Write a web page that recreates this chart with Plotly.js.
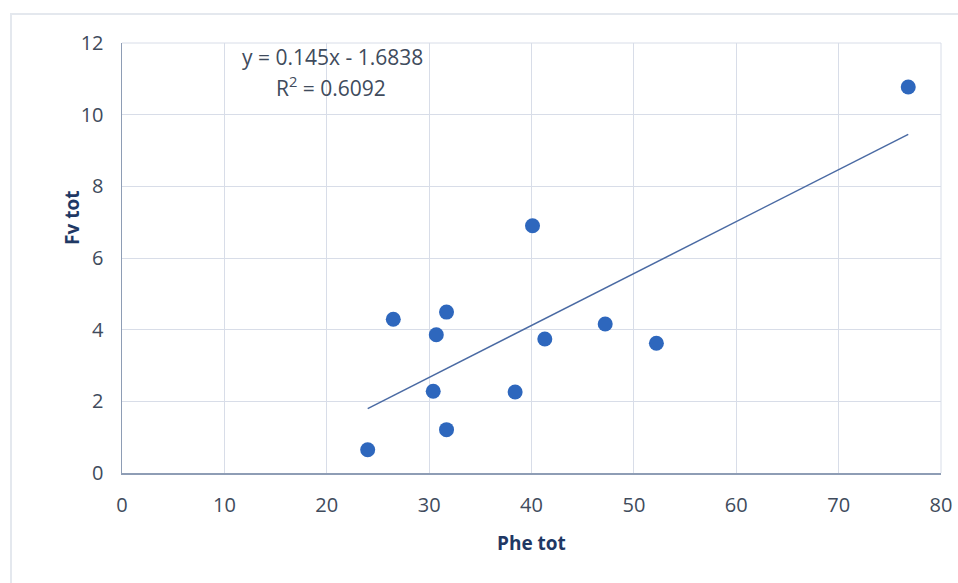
<!DOCTYPE html>
<html>
<head>
<meta charset="utf-8">
<script src="https://cdn.plot.ly/plotly-3.0.1.min.js"></script>
<style>
  html, body { margin: 0; padding: 0; background: #ffffff; }
  #frame { position: absolute; left: 10px; top: 13px; width: 960px; height: 600px;
           border-left: 2px solid #e4e8ee; border-top: 2px solid #e4e8ee; pointer-events: none; }
  #chart { width: 958px; height: 583px; }
</style>
</head>
<body>
<div id="chart"></div>
<div id="frame"></div>
<script>
// Data
const pheTot = [24.0, 26.5, 30.7, 31.7, 30.4, 31.7, 38.4, 41.3, 47.2, 52.2, 40.1, 76.8];
const fvTot  = [0.65, 4.29, 3.86, 4.49, 2.28, 1.21, 2.26, 3.74, 4.16, 3.62, 6.90, 10.77];
const slope = 0.145;
const intercept = -1.6838;
const rSquared = 0.6092;
const xTicks = [0, 10, 20, 30, 40, 50, 60, 70, 80];
const yTicks = [0, 2, 4, 6, 8, 10, 12];

const xMin = Math.min(...pheTot), xMax = Math.max(...pheTot);
const trendX = [xMin, xMax];
const trendY = trendX.map(x => slope * x + intercept);

const font = "'Open Sans', sans-serif";
const tickColor = '#404b5c';
const titleColor = '#1f3864';

const traces = [
  { x: trendX, y: trendY, mode: 'lines', type: 'scatter',
    line: { color: '#4a6aa3', width: 1.5 }, hoverinfo: 'skip', showlegend: false },
  { x: pheTot, y: fvTot, mode: 'markers', type: 'scatter',
    marker: { color: '#2e67bd', size: 15, line: { width: 0 } }, showlegend: false }
];

const layout = {
  width: 958, height: 583,
  margin: { l: 122, r: 17, t: 43, b: 110 },
  paper_bgcolor: 'rgba(0,0,0,0)', plot_bgcolor: '#ffffff',
  font: { family: font, color: tickColor, size: 20 },
  xaxis: {
    range: [0, 80], tickvals: xTicks, ticktext: xTicks.map(String),
    showgrid: true, gridcolor: '#d8dde8', gridwidth: 1,
    showline: true, linecolor: '#8e9db5', linewidth: 1.5, mirror: false,
    zeroline: false, ticks: '', tickfont: { size: 20, color: tickColor },
    ticklabelstandoff: 13,
    fixedrange: true
  },
  yaxis: {
    range: [0, 12], tickvals: yTicks, ticktext: yTicks.map(String),
    showgrid: true, gridcolor: '#d8dde8', gridwidth: 1,
    showline: true, linecolor: '#8e9db5', linewidth: 1.5,
    zeroline: false, ticks: '', tickfont: { size: 20, color: tickColor },
    ticklabelstandoff: 13,
    fixedrange: true
  },
  shapes: [
    { type: 'line', xref: 'paper', yref: 'paper', x0: 0, x1: 1, y0: 1, y1: 1, line: { color: '#d8dde8', width: 1 } },
    { type: 'line', xref: 'paper', yref: 'paper', x0: 1, x1: 1, y0: 0, y1: 1, line: { color: '#d8dde8', width: 1 } }
  ],
  annotations: [
    { text: '<b>Phe tot</b>', xref: 'paper', yref: 'paper', x: 0.5, y: (473-543)/430,
      xanchor: 'center', yanchor: 'middle', showarrow: false,
      font: { size: 19, color: titleColor, family: font } },
    { text: '<b>Fv tot</b>', xref: 'paper', yref: 'paper', x: -50/819, y: (473-218)/430,
      xanchor: 'center', yanchor: 'middle', textangle: -90, showarrow: false,
      font: { size: 19, color: titleColor, family: font } },
    { text: 'y = ' + slope + 'x - ' + Math.abs(intercept).toFixed(4), xref: 'paper', yref: 'paper',
      x: (332-122)/819, y: (473-57)/430, xanchor: 'center', yanchor: 'middle', showarrow: false,
      font: { size: 21, color: tickColor, family: font } },
    { text: 'R<sup>2</sup> = ' + rSquared.toFixed(4), xref: 'paper', yref: 'paper',
      x: (331-122)/819, y: (473-86)/430, xanchor: 'center', yanchor: 'middle', showarrow: false,
      font: { size: 21, color: tickColor, family: font } }
  ]
};

Plotly.newPlot('chart', traces, layout, { displayModeBar: false, staticPlot: true });
</script>
</body>
</html>
